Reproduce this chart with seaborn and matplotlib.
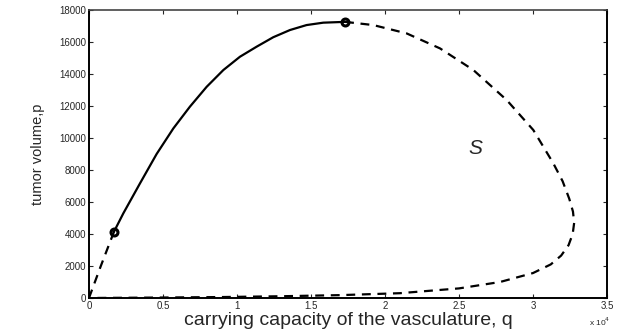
import matplotlib
matplotlib.use("Agg")
import matplotlib.pyplot as plt
import matplotlib.ticker as mticker
import seaborn as sns

# ---------------------------------------------------
# Data (q = carrying capacity, p = tumor volume)
# ---------------------------------------------------
# unstable branch from the origin up to the first marked point
low_q = [0, 800, 1690]
low_p = [0, 2000, 4145]

# stable branch (solid)
stable_q = [1690, 2320, 3450, 4570, 5700, 6820, 7950, 9080, 10200,
            11330, 12450, 13580, 14700, 15830, 17300]
stable_p = [4145, 5290, 7170, 9000, 10600, 11960, 13200, 14250, 15080,
            15710, 16300, 16750, 17060, 17210, 17260]

# unstable branch from the top point, round the right and back along the bottom
upper_q = [17300, 19210, 21460, 23720, 25970, 28220, 30020, 31370, 32000,
           32450, 32700, 32780, 32680, 32400, 31900, 31200, 30000, 27770,
           25000, 21000, 17000, 13000, 9000, 5000, 0]
upper_p = [17260, 17060, 16540, 15600, 14250, 12375, 10500, 8420, 7300,
           6200, 5400, 4700, 4000, 3300, 2650, 2100, 1560, 1000,
           600, 300, 180, 110, 60, 30, 0]

# marked points
mark_q = [1690, 17300]
mark_p = [4145, 17260]

x_ticks = [0, 5000, 10000, 15000, 20000, 25000, 30000, 35000]
y_ticks = [0, 2000, 4000, 6000, 8000, 10000, 12000, 14000, 16000, 18000]

sns.set_style("ticks")
plt.rcParams["font.family"] = ["Liberation Sans", "DejaVu Sans"]
plt.rcParams["xtick.direction"] = "in"
plt.rcParams["ytick.direction"] = "in"

fig = plt.figure(figsize=(6.31, 3.31), dpi=100)
ax = fig.add_axes([0.141, 0.0997, 0.821, 0.870])

dash = (0, (4, 3))
sns.lineplot(x=low_q, y=low_p, sort=False, estimator=None, color="black",
             linestyle=dash, linewidth=1.6, ax=ax)
sns.lineplot(x=stable_q, y=stable_p, sort=False, estimator=None, color="black",
             linewidth=1.6, ax=ax)
sns.lineplot(x=upper_q, y=upper_p, sort=False, estimator=None, color="black",
             linestyle=dash, linewidth=1.6, ax=ax)

ax.plot(mark_q, mark_p, "o", color="black", markerfacecolor="none",
        markersize=5, markeredgewidth=2.2, linestyle="none")

ax.text(26100, 9375, "S", fontsize=15, style="italic", ha="center", va="center")

ax.set_xlim(0, 35000)
ax.set_ylim(0, 18000)
ax.set_xticks(x_ticks)
ax.set_yticks(y_ticks)
ax.xaxis.set_major_formatter(mticker.FuncFormatter(lambda v, pos: f"{v / 1e4:g}"))
ax.tick_params(axis="both", labelsize=7, length=3, width=0.8,
               top=True, right=True, pad=2)

ax.text(0.985, -0.06, "x 10$^4$", transform=ax.transAxes, fontsize=6,
        ha="center", va="top")

ax.set_xlabel("carrying capacity of the vasculature, q", fontsize=14, labelpad=1)
ax.set_ylabel("tumor volume,p", fontsize=10.5, labelpad=10)

for side in ["left", "bottom", "right"]:
    ax.spines[side].set_linewidth(1.4)
    ax.spines[side].set_color("black")
ax.spines["top"].set_linewidth(1.2)
ax.spines["top"].set_color("#444444")

fig.savefig("out.png", dpi=100)
plt.close(fig)
